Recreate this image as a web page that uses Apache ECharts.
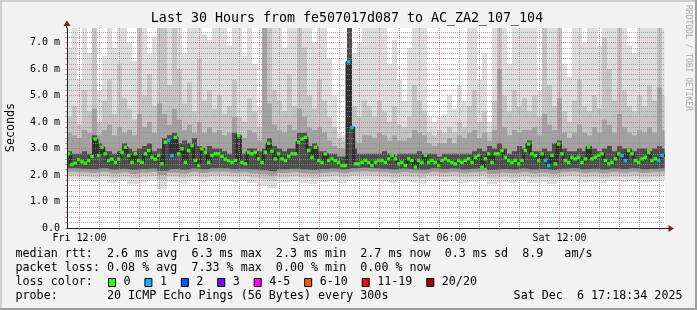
<!DOCTYPE html>
<html><head><meta charset="utf-8">
<script src="https://cdn.jsdelivr.net/npm/echarts@6/dist/echarts.min.js"></script>
<style>html,body{margin:0;padding:0;background:#f2f2f2}#c{width:697px;height:310px}</style>
</head><body><div id="c"></div><script>
// ---------- data ----------
const titleText = 'Last 30 Hours from fe507017d087 to AC_ZA2_107_104';
const startHour = 11.375;   // hours since Fri 00:00 at left edge
const endHour = 41.275;     // right edge
const medStep = 1 / 6;      // 10 min samples
const smokeStep = 1 / 4;    // 15 min samples
const lowStep = 1 / 2;      // 30 min samples

// median rtt (ms), one per 10 minutes
const median = [
 2.80,2.40,2.45,2.58,2.50,2.45,2.55,2.70,3.36,2.74,3.05,2.80,2.55,2.60,2.48,2.60,2.86,3.05,2.74,2.48,2.80,2.55,2.48,2.80,2.92,2.67,2.60,2.74,2.42,3.24,3.30,2.74,3.42,2.80,2.99,2.48,2.92,3.11,2.55,2.36,2.99,2.86,2.48,2.74,2.80,
 2.80,2.70,2.60,2.55,2.48,2.55,3.48,2.48,2.42,2.86,2.80,2.86,2.61,2.48,2.86,3.20,2.90,2.61,2.80,2.61,2.55,2.70,2.80,2.80,3.24,3.36,3.42,2.92,2.67,3.05,2.55,2.48,2.80,2.55,2.61,2.55,2.48,2.36,2.36,6.27,3.79,2.42,2.42,2.48,2.55,
 2.48,2.36,2.48,2.55,2.55,2.48,2.61,2.74,2.61,2.42,2.48,2.36,2.61,2.55,2.30,2.55,2.48,2.74,2.48,2.55,2.48,2.36,2.55,2.61,2.55,2.48,2.42,2.55,2.48,2.55,2.61,2.48,2.67,2.74,2.30,2.61,2.80,2.48,2.80,2.80,2.92,2.67,2.55,2.48,2.55,
 2.42,2.55,2.92,3.17,2.80,2.74,2.55,2.80,2.55,2.36,2.74,2.42,3.17,2.80,2.55,2.48,2.67,2.61,2.67,2.48,2.61,3.05,2.61,2.67,2.74,2.80,2.55,2.42,2.48,2.61,2.80,2.74,2.55,2.92,2.80,2.55,2.48,2.61,2.67,2.86,2.55,2.61,2.55,2.74
];
// samples with 1 lost ping
const lossOne = [30,31,84,85,143,144,166,167,177,178];

// smoke upper edges, one per 15 minutes
const smokeTop1 = [
 6.8,7.6,5.6,7.6,6.6,7.6,5.2,6.5,7.6,6.8,7.6,7.6,7.0,6.3,7.6,7.6,6.6,7.2,7.6,7.6,7.6,7.0,7.6,6.6,7.6,7.6,7.6,7.3,7.1,7.6,
 7.6,7.6,6.9,7.6,7.6,6.5,7.6,6.2,4.6,7.6,7.6,7.6,7.6,6.8,7.6,7.6,7.6,7.6,7.6,7.0,7.6,7.6,6.4,5.0,3.6,3.5,7.6,6.6,7.0,7.6,
 7.6,7.6,7.6,7.6,6.2,7.1,5.6,4.8,6.8,7.6,7.6,7.6,4.2,4.0,4.2,4.3,5.0,4.5,5.4,4.8,7.6,7.6,5.6,6.6,4.0,7.6,7.6,7.6,6.2,7.6,
 7.6,7.6,7.6,7.6,5.2,7.6,7.6,7.6,7.6,6.2,5.7,7.6,7.6,7.0,7.6,7.6,6.9,7.6,7.6,7.6,7.6,7.6,6.9,6.6,7.6,7.6,7.6,7.6,7.6,7.6
];
const smokeTop2 = [
 4.2,4.6,3.9,5.2,4.4,7.6,4.0,4.8,5.6,4.3,6.2,4.9,4.5,4.1,7.6,5.0,5.8,4.6,7.6,7.6,5.4,7.6,6.0,4.7,5.5,4.4,6.4,4.8,5.2,4.5,
 5.0,4.3,4.6,5.6,4.2,4.0,4.9,4.4,3.8,7.6,7.6,5.2,4.8,4.4,5.8,4.6,7.6,6.8,5.0,4.5,5.6,4.8,4.2,3.8,3.4,3.3,7.6,4.6,4.2,4.8,
 4.6,4.2,4.8,4.4,4.0,4.6,3.9,3.8,4.2,5.4,4.8,4.4,3.6,3.5,3.7,3.6,3.8,3.6,4.0,3.8,4.6,5.2,4.0,4.4,3.6,4.8,7.6,5.0,4.4,5.2,
 4.6,4.9,4.4,5.0,4.2,7.6,5.4,4.6,7.6,4.4,4.0,4.8,5.6,4.6,4.4,5.0,4.5,7.2,6.0,4.8,7.6,5.2,4.6,4.4,5.0,4.6,5.4,4.8,7.6,5.0
];
const smokeTop3 = [
 3.6,3.5,3.4,3.7,3.6,4.5,3.5,3.7,3.9,3.5,3.8,3.6,3.7,3.5,4.3,3.8,4.0,3.6,4.7,4.3,3.9,4.5,4.1,3.7,3.9,3.6,4.0,3.6,3.8,3.6,
 3.7,3.5,3.6,4.2,3.5,3.4,3.7,3.6,3.3,7.6,4.7,3.9,3.7,3.6,3.9,3.7,4.5,4.2,3.8,3.7,3.8,3.6,3.3,3.1,3.0,3.0,7.6,3.3,3.2,3.5,
 3.5,3.4,3.6,3.5,3.3,3.5,3.3,3.3,3.4,3.7,3.6,3.5,3.2,3.1,3.2,3.2,3.4,3.2,3.5,3.4,3.6,3.7,3.4,3.6,3.3,3.7,6.0,3.8,3.5,3.7,
 3.6,3.7,3.7,3.8,3.5,4.3,3.9,3.7,4.9,3.6,3.4,3.6,3.9,3.6,3.5,3.8,3.6,4.1,3.9,3.6,4.3,3.8,3.6,3.5,3.7,3.6,3.8,3.6,5.3,3.7
];
const smokeTop4 = [
 2.9,2.8,2.8,2.9,2.8,3.5,3.2,2.9,2.9,2.8,2.9,3.2,3.0,2.9,3.0,3.1,3.2,2.9,3.0,3.4,3.5,3.6,3.2,3.3,3.2,3.4,3.1,2.9,3.1,3.0,
 3.0,2.9,2.8,3.6,2.9,2.8,3.0,3.0,2.9,3.0,3.4,3.1,3.0,2.9,3.0,3.0,3.6,3.6,3.1,3.2,2.9,2.9,2.8,2.8,2.7,2.7,7.6,3.0,2.8,2.8,
 2.8,2.8,2.8,2.9,2.8,2.7,2.8,2.8,2.8,2.8,2.9,2.8,2.8,2.8,2.7,2.8,2.8,2.8,2.8,2.8,2.8,2.9,3.0,2.9,3.1,3.0,3.2,3.0,2.8,2.9,
 3.1,3.0,3.3,2.9,2.9,3.0,2.9,3.2,3.3,3.0,2.9,2.9,3.0,2.9,3.1,3.0,2.9,3.0,3.1,2.9,3.1,3.0,3.0,2.9,3.0,3.0,2.9,3.0,3.1,3.0
];
// smoke lower edges, one per 30 minutes
const smokeBot0 = [
 1.85,1.80,1.75,1.82,1.70,1.78,1.65,1.72,1.80,1.45,1.75,1.68,1.78,1.72,1.80,
 1.80,1.74,1.78,1.70,1.60,1.50,1.72,1.76,1.70,1.66,1.74,1.78,1.70,1.80,1.85,
 1.80,1.76,1.70,1.78,1.72,1.68,1.80,1.74,1.78,1.70,1.76,1.82,1.66,1.74,1.70,
 1.78,1.70,1.74,1.66,1.76,1.80,1.72,1.76,1.70,1.78,1.74,1.80,1.72,1.76,1.80
];
const smokeBot1 = [
 1.98,1.95,1.92,1.97,1.90,1.95,1.88,1.93,1.96,1.80,1.94,1.90,1.96,1.92,1.97,
 1.97,1.93,1.95,1.90,1.85,1.78,1.92,1.95,1.91,1.88,1.93,1.96,1.91,1.97,2.00,
 1.97,1.94,1.90,1.95,1.92,1.89,1.97,1.93,1.95,1.91,1.94,1.98,1.88,1.93,1.90,
 1.95,1.91,1.93,1.88,1.94,1.97,1.92,1.94,1.90,1.95,1.93,1.97,1.92,1.94,1.97
];
const smokeBot2 = [
 2.12,2.10,2.08,2.12,2.06,2.10,2.04,2.09,2.11,2.00,2.09,2.06,2.11,2.08,2.12,
 2.12,2.09,2.10,2.06,2.03,1.98,2.08,2.10,2.07,2.05,2.09,2.11,2.07,2.12,2.14,
 2.12,2.10,2.07,2.11,2.08,2.06,2.12,2.09,2.11,2.07,2.10,2.13,2.05,2.09,2.07,
 2.11,2.07,2.09,2.05,2.10,2.12,2.08,2.10,2.07,2.11,2.09,2.12,2.08,2.10,2.12
];
const smokeBot3 = [
 2.26,2.24,2.22,2.26,2.21,2.24,2.19,2.23,2.25,2.16,2.23,2.20,2.25,2.22,2.26,
 2.26,2.23,2.24,2.21,2.18,2.14,2.22,2.24,2.21,2.19,2.23,2.25,2.21,2.26,2.27,
 2.26,2.24,2.21,2.25,2.22,2.20,2.26,2.23,2.25,2.21,2.24,2.27,2.19,2.23,2.21,
 2.25,2.21,2.23,2.19,2.24,2.26,2.22,2.24,2.21,2.25,2.23,2.26,2.22,2.24,2.26
];

// axes ticks
const yMax = 7.55;
const yMajorTicks = [0,1,2,3,4,5,6,7];
const yMinorTicks = [0.2,0.4,0.6,0.8,1.2,1.4,1.6,1.8,2.2,2.4,2.6,2.8,3.2,3.4,3.6,3.8,4.2,4.4,4.6,4.8,5.2,5.4,5.6,5.8,6.2,6.4,6.6,6.8,7.2,7.4];
const xMajorHours = [12,15,18,21,24,27,30,33,36,39];
const xMinorHours = [13,14,16,17,19,20,22,23,25,26,28,29,31,32,34,35,37,38,40,41];
const xLabelHours = [12,18,24,30,36];

// legend texts
const legendLine1 = 'median rtt:  2.6 ms avg  6.3 ms max  2.3 ms min  2.7 ms now  0.3 ms sd  8.9   am/s';
const legendLine2 = 'packet loss: 0.08 % avg  7.33 % max  0.00 % min  0.00 % now';
const legendLine3 = 'loss color:';
const lossLabels = ['0','1','2','3','4-5','6-10','11-19','20/20'];
const lossColors = ['#26ff00','#00b8ff','#0059ff','#7e00ff','#ff00ff','#ff5500','#ff0000','#a10000'];
const legendLine4 = 'probe:       20 ICMP Echo Pings (56 Bytes) every 300s';
const dateText = 'Sat Dec  6 17:18:34 2025';
const sideText = 'RRDTOOL / TOBI OETIKER';

// ---------- rendering ----------
const MONO = '"DejaVu Sans Mono", monospace';
const GRID = 'rgba(143,143,143,0.75)';
const MGRID = 'rgba(222,79,79,0.6)';

function stepData(arr, step) {
  const d = [[startHour, arr[0]]];
  arr.forEach((v, i) => d.push([startHour + (i + 0.5) * step, v]));
  d.push([endHour, arr[arr.length - 1]]);
  return d;
}
function band(arr, step, color) {
  return {type:'line', step:'middle', data: stepData(arr, step), symbol:'none', silent:true, z:2,
    lineStyle:{width:0}, areaStyle:{color:color, opacity:1, origin:'start'}, animation:false};
}
const medianPoints = median.map((v, i) => ({
  value:[startHour + (i + 0.5) * medStep, v],
  itemStyle:{color: lossOne.indexOf(i) >= 0 ? lossColors[1] : lossColors[0]}
}));
const series = [
  band(smokeTop1, smokeStep, '#dddddd'),
  band(smokeTop2, smokeStep, '#c4c4c4'),
  band(smokeTop3, smokeStep, '#a2a2a2'),
  band(smokeTop4, smokeStep, '#4e4e4e'),
  band(smokeBot3, lowStep, '#9c9c9c'),
  band(smokeBot2, lowStep, '#c4c4c4'),
  band(smokeBot1, lowStep, '#dddddd'),
  band(smokeBot0, lowStep, '#ffffff'),
  {type:'line', step:'middle', data: stepData(median, medStep), symbol:'none', silent:true, z:3,
    lineStyle:{width:3, color:'#2e2e2e'}, animation:false},
  {type:'line', data: medianPoints, z:6, silent:true, animation:false,
    lineStyle:{width:0, opacity:0}, showSymbol:true, showAllSymbol:true,
    symbol:'rect', symbolSize:[3.6,3.4]}
];

function hourLabel(h) {
  const day = h < 24 ? 'Fri' : 'Sat';
  const hh = h % 24;
  return day + ' ' + (hh < 10 ? '0' : '') + hh + ':00';
}

const CW = 7.04; // legend char width
const legendX = 15.5;
const graphics = [
  {type:'rect', shape:{x:0,y:0,width:697,height:2}, style:{fill:'#cfcfcf'}, z:100},
  {type:'rect', shape:{x:0,y:0,width:2,height:310}, style:{fill:'#cfcfcf'}, z:100},
  {type:'rect', shape:{x:0,y:308,width:697,height:2}, style:{fill:'#9e9e9e'}, z:100},
  {type:'rect', shape:{x:695,y:0,width:2,height:310}, style:{fill:'#9e9e9e'}, z:100},
  {type:'text', x:347, y:18.5, style:{text:titleText, font:'13.3px ' + MONO, fill:'#000', align:'center', verticalAlign:'middle', textAlign:'center', textVerticalAlign:'middle'}},
  {type:'text', x:10.5, y:127.5, rotation:Math.PI/2, style:{text:'Seconds', font:'11.7px ' + MONO, fill:'#000', align:'center', verticalAlign:'middle', textAlign:'center', textVerticalAlign:'middle'}},
  {type:'text', x:688.5, y:5, rotation:-Math.PI/2, style:{text:sideText, font:'8px ' + MONO, fill:'#a8a8a8', align:'left', verticalAlign:'middle', textAlign:'left', textVerticalAlign:'middle'}},
  {type:'line', shape:{x1:665,y1:228.5,x2:669,y2:228.5}, style:{stroke:'#1f1f1f', lineWidth:1}, z:50},
  {type:'polygon', shape:{points:[[668.5,225],[674,228.5],[668.5,232]]}, style:{fill:'#801f1f'}, z:50},
  {type:'line', shape:{x1:66.5,y1:28,x2:66.5,y2:25}, style:{stroke:'#1f1f1f', lineWidth:1}, z:50},
  {type:'polygon', shape:{points:[[63.5,26],[67,20.5],[70.5,26]]}, style:{fill:'#801f1f'}, z:50}
];
[legendLine1, legendLine2, legendLine3, legendLine4].forEach((t, k) => {
  graphics.push({type:'text', x:legendX, y:254.3 + k * 14, style:{text:t, font:'11.7px ' + MONO, fill:'#000', align:'left', verticalAlign:'middle', textAlign:'left', textVerticalAlign:'middle'}});
});
graphics.push({type:'text', x:682.5, y:296.3, style:{text:dateText, font:'11.7px ' + MONO, fill:'#000', align:'right', verticalAlign:'middle', textAlign:'right', textVerticalAlign:'middle'}});
let bx = 108.5;
lossLabels.forEach((lab, k) => {
  graphics.push({type:'rect', shape:{x:bx, y:278.5, width:7, height:8}, style:{fill:lossColors[k], stroke:'#000', lineWidth:1}});
  graphics.push({type:'text', x:bx + 15, y:282.3, style:{text:lab, font:'11.7px ' + MONO, fill:'#000', align:'left', verticalAlign:'middle', textAlign:'left', textVerticalAlign:'middle'}});
  bx += 15 + (lab.length + 2) * CW + 0.3;
});

const option = {
  backgroundColor:'#f2f2f2',
  animation:false,
  grid:{left:67, right:32, top:28, bottom:82, show:true, backgroundColor:'#ffffff', borderWidth:0},
  xAxis:[
    {type:'value', min:startHour, max:endHour, position:'bottom', z:10,
      axisLine:{show:true, lineStyle:{color:'#1f1f1f', width:1}},
      axisTick:{show:true, length:2, customValues:xMajorHours, lineStyle:{color:MGRID}},
      axisLabel:{show:true, customValues:xLabelHours, formatter:hourLabel, margin:5, fontFamily:MONO, fontSize:10, color:'#000'},
      splitLine:{show:true, lineStyle:{color:MGRID, type:[1,1], width:1}}},
    {type:'value', min:startHour, max:endHour, position:'bottom', z:9,
      axisLine:{show:false},
      axisTick:{show:true, length:2, customValues:xMinorHours, lineStyle:{color:GRID}},
      axisLabel:{show:false},
      splitLine:{show:true, lineStyle:{color:GRID, type:[1,1], width:1}}}
  ],
  yAxis:[
    {type:'value', min:0, max:yMax, position:'left', z:10,
      axisLine:{show:true, lineStyle:{color:'#1f1f1f', width:1}},
      axisTick:{show:true, length:2, customValues:yMajorTicks, lineStyle:{color:MGRID}},
      axisLabel:{show:true, customValues:yMajorTicks, margin:7, fontFamily:MONO, fontSize:10, color:'#000',
        formatter:v => v === 0 ? '0.0' : v.toFixed(1) + ' m'},
      splitLine:{show:true, lineStyle:{color:MGRID, type:[1,1], width:1}}},
    {type:'value', min:0, max:yMax, position:'left', z:9,
      axisLine:{show:false},
      axisTick:{show:true, length:2, customValues:yMinorTicks, lineStyle:{color:GRID}},
      axisLabel:{show:false},
      splitLine:{show:true, lineStyle:{color:GRID, type:[1,1], width:1}}}
  ],
  series: series,
  graphic: graphics
};
const chart = echarts.init(document.getElementById('c'), null, {renderer:'canvas', width:697, height:310});
chart.setOption(option);
</script></body></html>
